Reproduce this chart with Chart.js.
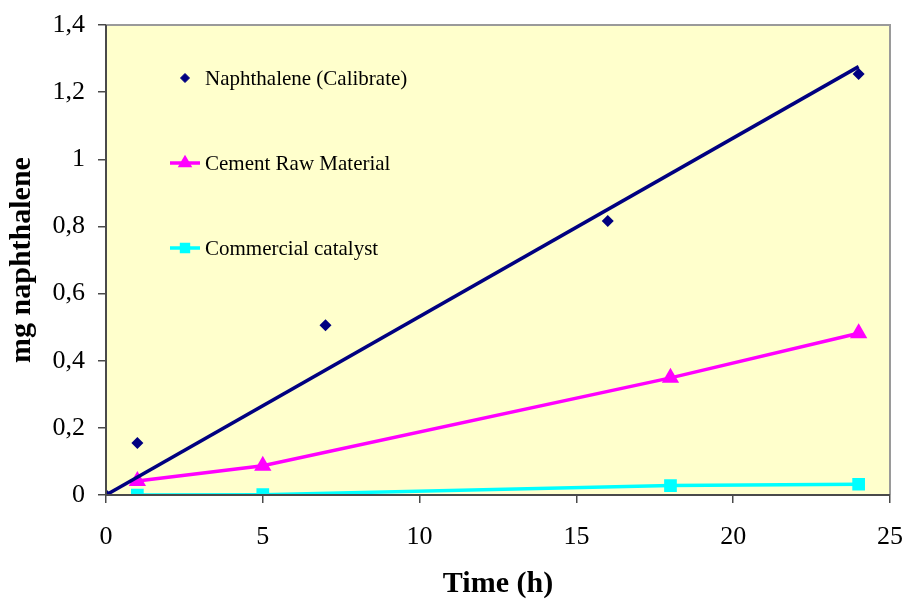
<!DOCTYPE html>
<html>
<head>
<meta charset="utf-8">
<script src="https://cdn.jsdelivr.net/npm/chart.js@4.4.1/dist/chart.umd.min.js"></script>
<style>
  html, body { margin: 0; padding: 0; background: #fff; }
  #wrap { width: 905px; height: 599px; }
</style>
</head>
<body>
<div id="wrap"><canvas id="chart" width="905" height="599"></canvas></div>
<script>
// data
const seriesNames = ['Naphthalene (Calibrate)', 'Cement Raw Material', 'Commercial catalyst'];
const naphTime = [0, 1, 7, 16, 24];
const naphMass = [0, 0.155, 0.506, 0.816, 1.254];
const trendTime = [0, 24];
const trendMass = [0, 1.276];
const cementTime = [1, 5, 18, 24];
const cementMass = [0.042, 0.087, 0.349, 0.482];
const catalystTime = [1, 5, 18, 24];
const catalystMass = [0.0, 0.001, 0.028, 0.032];
const yTickLabels = ['0', '0,2', '0,4', '0,6', '0,8', '1', '1,2', '1,4'];
const xTickLabels = ['0', '5', '10', '15', '20', '25'];

const toPoints = (xs, ys) => xs.map((x, i) => ({ x: x, y: ys[i] }));

const serif = '"Liberation Serif", "Times New Roman", serif';

// yellow plot background + frame (dark left/bottom, light top/right)
const framePlugin = {
  id: 'frame',
  beforeDatasetsDraw(chart) {
    const { ctx, chartArea: a } = chart;
    ctx.save();
    ctx.fillStyle = '#FFFFCC';
    ctx.fillRect(a.left, a.top, a.right - a.left, a.bottom - a.top);
    ctx.restore();
  },
  afterDatasetsDraw(chart) {
    const { ctx, chartArea: a } = chart;
    ctx.save();
    ctx.lineWidth = 2;
    ctx.strokeStyle = '#9a9a9a';
    ctx.beginPath();
    ctx.moveTo(a.left, a.top);
    ctx.lineTo(a.right, a.top);
    ctx.lineTo(a.right, a.bottom);
    ctx.stroke();
    ctx.strokeStyle = '#4a4a4a';
    ctx.beginPath();
    ctx.moveTo(a.left, a.top);
    ctx.lineTo(a.left, a.bottom);
    ctx.lineTo(a.right, a.bottom);
    ctx.stroke();
    ctx.restore();
  }
};

// legend sits inside the plot, upper left
const legendPlugin = {
  id: 'insideLegend',
  afterDraw(chart) {
    const ctx = chart.ctx;
    const order = [0, 2, 3];
    const x0 = 170, rowY = [78, 163, 248];
    ctx.save();
    order.forEach((di, i) => {
      const ds = chart.data.datasets[di];
      const y = rowY[i];
      if (ds.showLine !== false) {
        ctx.strokeStyle = ds.borderColor;
        ctx.lineWidth = ds.borderWidth;
        ctx.beginPath();
        ctx.moveTo(x0, y);
        ctx.lineTo(x0 + 30, y);
        ctx.stroke();
      }
      ctx.fillStyle = ds.pointBackgroundColor;
      ctx.strokeStyle = ds.pointBackgroundColor;
      Chart.helpers.drawPoint(ctx, {
        pointStyle: ds.pointStyle,
        radius: ds.pointRadius * 0.75,
        rotation: 0,
        borderWidth: 1
      }, x0 + 15, y);
      ctx.fillStyle = '#000';
      ctx.font = '21px ' + serif;
      ctx.textBaseline = 'middle';
      ctx.textAlign = 'left';
      ctx.fillText(ds.label, x0 + 35, y + 1);
    });
    ctx.restore();
  }
};

new Chart(document.getElementById('chart'), {
  type: 'scatter',
  data: {
    datasets: [
      {
        label: seriesNames[0],
        data: toPoints(naphTime, naphMass),
        showLine: false,
        pointStyle: 'rectRot',
        pointRadius: 6,
        pointBackgroundColor: '#000080',
        pointBorderColor: '#000080',
        borderColor: '#000080',
        borderWidth: 0
      },
      {
        label: 'trend',
        data: toPoints(trendTime, trendMass),
        showLine: true,
        borderColor: '#000080',
        borderWidth: 3.5,
        pointRadius: 0
      },
      {
        label: seriesNames[1],
        data: toPoints(cementTime, cementMass),
        showLine: true,
        borderColor: '#FF00FF',
        borderWidth: 3.5,
        pointStyle: 'triangle',
        pointRadius: 6.5,
        pointBackgroundColor: '#FF00FF',
        pointBorderColor: '#FF00FF'
      },
      {
        label: seriesNames[2],
        data: toPoints(catalystTime, catalystMass),
        showLine: true,
        borderColor: '#00FFFF',
        borderWidth: 3.5,
        pointStyle: 'rect',
        pointRadius: 6.5,
        pointBackgroundColor: '#00FFFF',
        pointBorderColor: '#00FFFF'
      }
    ]
  },
  options: {
    responsive: false,
    animation: false,
    layout: { padding: { top: 25, right: 15, left: 0, bottom: 0 } },
    plugins: {
      legend: { display: false },
      tooltip: { enabled: false }
    },
    scales: {
      x: {
        type: 'linear',
        min: 0,
        max: 25,
        afterFit: s => { s.height = 104; s.paddingLeft = 0; s.paddingRight = 0; },
        afterBuildTicks: s => { s.ticks = xTickLabels.map(t => ({ value: Number(t) })); },
        border: { display: false },
        grid: { drawOnChartArea: false, tickLength: 8, color: '#4a4a4a', lineWidth: 1.5 },
        ticks: {
          padding: 19,
          color: '#000',
          font: { family: serif, size: 26 },
          callback: (v, i) => xTickLabels[i]
        },
        title: {
          display: true,
          text: 'Time (h)',
          color: '#000',
          font: { family: serif, size: 30, weight: 'bold', lineHeight: 1 },
          padding: { top: 0, bottom: 0 }
        }
      },
      y: {
        type: 'linear',
        min: 0,
        max: 1.4,
        afterFit: s => { s.width = 106; s.paddingTop = 0; s.paddingBottom = 0; },
        afterBuildTicks: s => { s.ticks = yTickLabels.map((t, i) => ({ value: i * 0.2 })); },
        border: { display: false },
        grid: { drawOnChartArea: false, tickLength: 8, color: '#4a4a4a', lineWidth: 1.5 },
        ticks: {
          padding: 13,
          color: '#000',
          font: { family: serif, size: 26 },
          callback: (v, i) => yTickLabels[i]
        },
        title: {
          display: true,
          text: 'mg naphthalene',
          color: '#000',
          font: { family: serif, size: 30, weight: 'bold', lineHeight: 1 },
          padding: { top: 7, bottom: 0 }
        }
      }
    }
  },
  plugins: [framePlugin, legendPlugin]
});
</script>
</body>
</html>
